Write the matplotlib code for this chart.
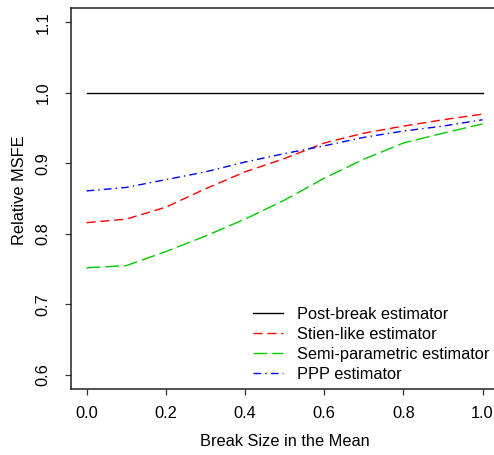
import matplotlib
matplotlib.use("Agg")
import matplotlib.pyplot as plt

plt.rcParams['font.family'] = ['Liberation Sans', 'DejaVu Sans']

# break size in the mean
break_size = [0.0, 0.1, 0.2, 0.3, 0.4, 0.5, 0.6, 0.7, 0.8, 0.9, 1.0]

# relative MSFE by estimator
post_break = [1.0] * 11
stien_like = [0.816, 0.821, 0.838, 0.864, 0.888, 0.907, 0.929, 0.943, 0.953, 0.962, 0.970]
semi_param = [0.752, 0.755, 0.775, 0.797, 0.821, 0.848, 0.879, 0.906, 0.929, 0.943, 0.956]
ppp = [0.861, 0.866, 0.877, 0.888, 0.902, 0.914, 0.925, 0.937, 0.946, 0.953, 0.962]

labels = ['Post-break estimator', 'Stien-like estimator',
          'Semi-parametric estimator', 'PPP estimator']

W, H = 494, 455
fs = 11.8
fig = plt.figure(figsize=(W / 100, H / 100), dpi=100)
ax = fig.add_axes([70.7 / W, 1 - 389 / H, 427.7 / W, (389 - 8.4) / H])

lw = 1.0
ax.plot(break_size, post_break, color='black', lw=lw, label=labels[0])
ax.plot(break_size, stien_like, color='red', lw=lw, dashes=(6.5, 3.5), label=labels[1])
ax.plot(break_size, semi_param, color='#00cc00', lw=lw, dashes=(10, 3.5), label=labels[2])
ax.plot(break_size, ppp, color='blue', lw=lw, dashes=(5.5, 3, 1, 3), label=labels[3])

ax.set_xlim(-0.04, 1.04)
ax.set_ylim(0.58, 1.12)
ax.set_xticks([0.0, 0.2, 0.4, 0.6, 0.8, 1.0])
ax.set_yticks([0.6, 0.7, 0.8, 0.9, 1.0, 1.1])
ax.set_xticklabels(['0.0', '0.2', '0.4', '0.6', '0.8', '1.0'])
ax.set_yticklabels(['0.6', '0.7', '0.8', '0.9', '1.0', '1.1'], rotation=90, va='center')
ax.tick_params(axis='both', direction='out', length=4.5, width=0.9, labelsize=fs, color='#333333')
ax.tick_params(axis='x', pad=7.5)
ax.tick_params(axis='y', pad=10)
for s in ax.spines.values():
    s.set_linewidth(1.1)
    s.set_color('#222222')

fig.text(19.5 / W, 1 - 190 / H, 'Relative MSFE', rotation=90, ha='center', va='center', fontsize=fs)
fig.text(284.5 / W, 1 - 441 / H, 'Break Size in the Mean', ha='center', va='center', fontsize=fs)

ax.legend(loc='upper left', bbox_to_anchor=(253 / W, 1 - 307 / H),
          bbox_transform=fig.transFigure, frameon=False, fontsize=fs,
          borderpad=0, borderaxespad=0, handlelength=1.83, handletextpad=0.85,
          labelspacing=0.3)

fig.savefig('out.png', dpi=100)
